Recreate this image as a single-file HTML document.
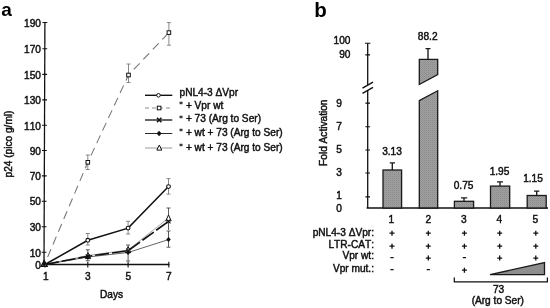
<!DOCTYPE html>
<html><head><meta charset="utf-8">
<style>
html,body{margin:0;padding:0;background:#fff;}
svg{display:block;filter:grayscale(1);}
text{font-family:"Liberation Sans",sans-serif;font-size:10.15px;fill:#111;stroke:#111;stroke-width:0.45;font-kerning:none;}
.q{font-size:8.6px;}
.b{font-weight:bold;font-size:18px;fill:#000;stroke:none;}
.ax{stroke:#111;stroke-width:1.3;fill:none;}
.tk{stroke:#111;stroke-width:1.1;fill:none;}
.eb{stroke:#7a7a7a;stroke-width:0.9;fill:none;}
.bar{fill:url(#ht);stroke:#1a1a1a;stroke-width:1.3;}
.ebb{stroke:#1a1a1a;stroke-width:1.35;fill:none;}
.pl{stroke:#111;stroke-width:1.3;fill:none;}
</style></head><body>
<svg width="550" height="308" viewBox="0 0 550 308">
<defs><pattern id="ht" width="2" height="2" patternUnits="userSpaceOnUse"><rect width="2" height="2" fill="#a0a0a0"/><rect width="1" height="1" fill="#8c8c8c"/><rect x="1" y="1" width="1" height="1" fill="#969696"/></pattern></defs>
<rect width="550" height="308" fill="#fff"/>
<!-- PANEL A -->
<text class="b" x="1.3" y="16" style="font-size:19px">a</text>
<g id="ya">
<path class="ax" d="M44.9 22.5L44 264.5"/>
<path class="tk" d="M42.5 22.5h4.8 M42.4 48.7h4.8 M42.3 74.4h4.8 M42.2 99.9h4.8 M42.1 125.3h4.8 M42 150.5h4.8 M41.9 175.9h4.8 M41.8 201.3h4.8 M41.7 226.8h4.8 M41.6 252.3h4.8"/>
<g text-anchor="end">
<text x="41" y="27.3">190</text>
<text x="41" y="53">170</text>
<text x="41" y="78.6">150</text>
<text x="41" y="104.1">130</text>
<text x="41" y="129.5">110</text>
<text x="41" y="154.5">90</text>
<text x="41" y="179.9">70</text>
<text x="41" y="205.4">50</text>
<text x="41" y="231">30</text>
<text x="41" y="256.6">10</text>
<text x="41" y="268.6">0</text>
</g>
<text transform="translate(12.3,144) rotate(-90)" text-anchor="middle">p24 (pico g/ml)</text>
</g>
<g id="xa">
<path class="ax" d="M44.4 264.5H169.5"/>
<path class="tk" d="M87.8 261.8v5.6 M128.1 261.8v5.6 M168.8 261.8v5.6 M45 264.5v2.9"/>
<g text-anchor="middle">
<text x="45.8" y="279.8">1</text>
<text x="87.8" y="280.2">3</text>
<text x="128.3" y="280.2">5</text>
<text x="168.8" y="280.2">7</text>
<text x="111.6" y="297.5" font-size="10.5">Days</text>
</g>
</g>
<g id="errA">
<!-- Vpr wt -->
<path class="eb" d="M87.8 155v14.5M85.8 155h4M85.8 169.5h4 M128.5 64v18.5M126.5 64h4M126.5 82.5h4 M168.9 22.6v22.6M166.9 22.6h4M166.9 45.2h4"/>
<!-- dVpr -->
<path class="eb" d="M87.8 233.5v11.5M85.8 233.5h4M85.8 245h4 M128.1 221.3v12.7M126.1 221.3h4M126.1 234h4 M168.5 178.6v15.5M166.5 178.6h4M166.5 194.1h4"/>
<!-- cluster -->
<path class="eb" style="stroke:#4a4a4a" d="M87.8 249.8v11M85.8 249.8h4M85.8 260.8h4 M128.1 245v16M126.1 245h4M126.1 261h4 M168.5 208v22M166.5 208h4 M168.5 231v16.2M166.5 231h4M166.5 247.2h4"/>
</g>
<g id="linesA" fill="none">
<polyline points="168.9,32.6 128.5,75 87.8,162.3 44.5,264.5" stroke="#747474" stroke-width="1.05" stroke-dasharray="8.5,5.3" stroke-dashoffset="-1"/>
<polyline points="45,264.5 87.8,255.5 128.1,250 168.5,218" stroke="#aaa" stroke-width="1"/>
<polyline points="45,264.5 87.8,257 128.1,252.5 168.5,239.6" stroke="#555" stroke-width="0.9"/>
<polyline points="45,264.5 87.8,256.3 128.1,250.7 168.5,221.3" stroke="#111" stroke-width="1.6" stroke-dasharray="14,3"/>
<polyline points="45,264.5 87.8,240.3 128.1,228.1 168.5,186.6" stroke="#111" stroke-width="1.5"/>
</g>
<g id="markA">
<!-- squares -->
<g fill="#fff" stroke="#111" stroke-width="1">
<rect x="86" y="160.5" width="3.6" height="3.6"/>
<rect x="126.7" y="73.2" width="3.6" height="3.6"/>
<rect x="167.1" y="30.8" width="3.6" height="3.6"/>
</g>
<!-- circles -->
<g fill="#fff" stroke="#111" stroke-width="1.1">
<circle cx="87.8" cy="240.3" r="1.9"/>
<circle cx="128.1" cy="228.1" r="1.9"/>
<circle cx="168.5" cy="186.6" r="1.9"/>
</g>
<!-- triangles -->
<g fill="#fff" stroke="#111" stroke-width="1">
<path d="M88.0 252.6l2.7 6h-5.4z"/>
<path d="M128.1 246.6l2.7 6h-5.4z"/>
<path d="M168.5 214.9l2.7 6h-5.4z"/>
<path d="M44.2 260.6l2.9 5.6h-5.8z" stroke-width="1.4"/>
</g>
<!-- x markers -->
<path d="M85.8 254.3l4 4m0-4l-4 4 M126.1 248.7l4 4m0-4l-4 4 M166.5 219.3l4 4m0-4l-4 4" stroke="#111" stroke-width="1.1" fill="none"/>
<!-- diamonds -->
<path d="M44.2 261.6l2.1 2.4l-2.1 2.4l-2.1 -2.4z M87.8 254.5l2.3 2.5l-2.3 2.5l-2.3 -2.5z M128.1 250l2.3 2.5l-2.3 2.5l-2.3 -2.5z M168.5 237.1l2.3 2.5l-2.3 2.5l-2.3 -2.5z" fill="#111"/>

</g>
<g id="legend">
<path d="M145 95.3H172.3" stroke="#111" stroke-width="1.4"/>
<circle cx="158.5" cy="95.3" r="1.8" fill="#fff" stroke="#111" stroke-width="1"/>
<path d="M145 108H172.3" stroke="#8a8a8a" stroke-width="1" stroke-dasharray="4,3"/>
<rect x="157.3" y="106.2" width="3.6" height="3.6" fill="#fff" stroke="#111" stroke-width="1"/>
<path d="M145 120H172.3" stroke="#111" stroke-width="1.3"/>
<path d="M157 117.7l4.4 4.6m0-4.6l-4.4 4.6" stroke="#111" stroke-width="1.5" fill="none"/>
<path d="M145 133.5H172.3" stroke="#2a2a2a" stroke-width="1"/>
<path d="M159.1 130.8l2.5 2.7l-2.5 2.7l-2.5 -2.7z" fill="#111"/>
<path d="M145 148H172.3" stroke="#999" stroke-width="1"/>
<path d="M159.3 145.1l2.5 5h-5z" fill="#fff" stroke="#111" stroke-width="1"/>
<text x="179.5" y="96.2">pNL4-3 ΔVpr</text>
<text x="179.5" y="108.7"><tspan class="q" dy="-0.9">"</tspan><tspan dy="0.9" dx="0.5"> + Vpr wt</tspan></text>
<text x="179.5" y="122.4"><tspan class="q" dy="-0.9">"</tspan><tspan dy="0.9" dx="0.5"> + 73 (Arg to Ser)</tspan></text>
<text x="179.5" y="135.7"><tspan class="q" dy="-0.9">"</tspan><tspan dy="0.9" dx="0.5"> + wt + 73 (Arg to Ser)</tspan></text>
<text x="179.5" y="150.5"><tspan class="q" dy="-0.9">"</tspan><tspan dy="0.9" dx="0.5"> + wt + 73 (Arg to Ser)</tspan></text>
</g>
<!-- PANEL B -->
<text class="b" x="314.2" y="16.5" style="font-size:20.5px">b</text>
<g id="yb">
<path class="ax" d="M367.7 43.2V85 M367.7 90.5V208"/>
<path class="tk" d="M365 43.2h5.4 M365.4 54.9h4.6 M365.4 103.1h4.6 M365.4 126.7h4.6 M365.4 150h4.6 M365.4 173h4.6 M365.4 196.9h4.6"/>
<path d="M362.5 88.2l10.5 -6 M362.5 93.4l10.5 -6" stroke="#111" stroke-width="1.4" fill="none"/>
<text x="350.5" y="43.5" text-anchor="end">100</text>
<text x="350.5" y="58" text-anchor="end">90</text>
<text x="339" y="106.8" text-anchor="middle">9</text>
<text x="339" y="129.9" text-anchor="middle">7</text>
<text x="339" y="153.3" text-anchor="middle">5</text>
<text x="339" y="175.5" text-anchor="middle">3</text>
<text x="339" y="198.8" text-anchor="middle">1</text>
<text x="339" y="211.5" text-anchor="middle">0</text>
<text transform="translate(326.8,132.7) rotate(-90)" text-anchor="middle">Fold Activation</text>
</g>
<path class="ax" d="M366.6 208H548"/>
<g id="bars">
<rect class="bar" x="383" y="170" width="18.6" height="38"/>
<path class="bar" d="M419.3 59.4H437.7V74.6L419.3 84.5Z"/>
<path class="bar" d="M419.3 100.6L437.7 90.8V208H419.3Z"/>
<rect class="bar" x="454.4" y="201.3" width="19.2" height="6.7"/>
<rect class="bar" x="490.5" y="186.1" width="19.2" height="21.9"/>
<rect class="bar" x="527.2" y="195.5" width="19" height="12.5"/>
<path class="ebb" d="M392.3 170V162.8M389.8 162.8h5.2 M428 59.4V48.6M425.5 48.6h5 M464 201.3V197.8M461 197.8h6.2 M500 186.1V181.8M497 181.8h6 M536.7 195.5V191.1M534 191.1h5.4"/>
</g>
<g text-anchor="middle">
<text x="427.7" y="39.6">88.2</text>
<text x="392" y="155">3.13</text>
<text x="463.6" y="189.4">0.75</text>
<text x="499.5" y="174.8">1.95</text>
<text x="533" y="181.6">1.15</text>
<text x="391.2" y="223.3">1</text>
<text x="428.3" y="223.3">2</text>
<text x="463.8" y="223.3">3</text>
<text x="499.3" y="223.3">4</text>
<text x="535.2" y="223.3">5</text>
</g>
<g text-anchor="end">
<text x="374" y="236">pNL4-3 ΔVpr:</text>
<text x="374" y="247.5">LTR-CAT:</text>
<text x="374" y="259.1">Vpr wt:</text>
<text x="374" y="272">Vpr mut.:</text>
</g>
<path class="pl" d="M389.5 233.2h5M392.0 230.7v5 M425.8 233.2h5M428.3 230.7v5 M461.9 233.2h5M464.4 230.7v5 M497.2 233.2h5M499.7 230.7v5 M533.3 233.2h5M535.8 230.7v5 M389.5 246.2h5M392.0 243.7v5 M425.8 246.2h5M428.3 243.7v5 M461.9 246.2h5M464.4 243.7v5 M497.2 246.2h5M499.7 243.7v5 M533.3 246.2h5M535.8 243.7v5 M390.4 257.6h3.2 M425.8 258.1h5M428.3 255.6v5 M462.8 257.6h3.2 M497.2 258.1h5M499.7 255.6v5 M533.3 258.1h5M535.8 255.6v5 M390.4 269.7h3.2 M426.7 269.7h3.2 M461.9 270.2h5M464.4 267.7v5"/>
<path d="M490 274.7H544.5V262.5Z" fill="#8e8e8e" stroke="#1a1a1a" stroke-width="1.3" stroke-linejoin="miter"/>
<path d="M454.3 277.6V281.8H547.4V277.6" stroke="#111" stroke-width="1.25" fill="none"/>
<g text-anchor="middle">
<text x="498.6" y="292.6">73</text>
<text x="497.8" y="304.1">(Arg to Ser)</text>
</g>
</svg>
</body></html>
